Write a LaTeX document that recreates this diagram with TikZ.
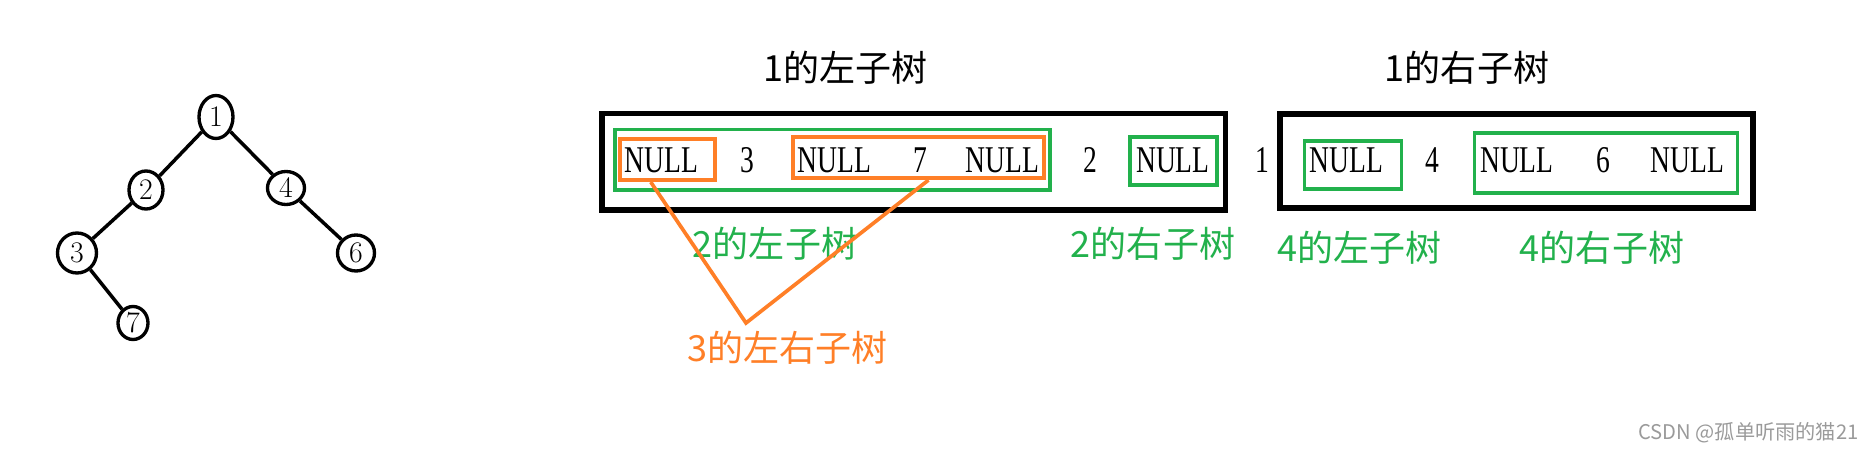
\documentclass[tikz,border=0pt]{standalone}
\usepackage{fontspec}
\usepackage{tikz}
\usetikzlibrary{shapes.geometric,calc}
\newfontfamily\cjk{Noto Sans CJK SC}
\newfontfamily\seqfont[FakeStretch=0.73]{Liberation Serif}
\definecolor{pgreen}{HTML}{22B14C}
\definecolor{porange}{HTML}{FF7F27}
\definecolor{wm}{HTML}{9A9A9A}
\tikzset{
  tnode/.style={draw,ellipse,line width=1.9pt,inner sep=0pt,minimum width=0.68cm,minimum height=0.76cm,font=\fontsize{17}{17}\selectfont},
  branch/.style={line width=2pt},
  seq/.style={anchor=base,inner sep=0pt,font=\seqfont\fontsize{21.5}{24}\selectfont},
  blk/.style={draw,line width=3pt,inner sep=0pt},
  gbox/.style={draw=pgreen,line width=2.2pt,inner sep=0pt},
  obox/.style={draw=porange,line width=2.3pt,inner sep=0pt},
  oline/.style={draw=porange,line width=2.1pt},
  ttl/.style={font=\cjk\fontsize{20.5}{24}\selectfont,inner sep=0pt},
  gl/.style={ttl,text=pgreen},
  ol/.style={ttl,text=porange}}
\begin{document}
\begin{tikzpicture}[x=0.02cm,y=-0.02cm]
\useasboundingbox (0,0) rectangle (1869,452);
% the tree
\node[tnode,minimum height=0.86cm] (n1) at (216,117) {1};
\node[tnode] (n2) at (146,190) {2};
\node[tnode,minimum width=0.74cm,minimum height=0.66cm] (n4) at (286,188) {4};
\node[tnode,minimum width=0.78cm,minimum height=0.8cm] (n3) at (77,253) {3};
\node[tnode,minimum width=0.74cm,minimum height=0.72cm] (n6) at (356,253) {6};
\node[tnode,minimum width=0.6cm,minimum height=0.66cm] (n7) at (133,323) {7};
\draw[branch] (n1) -- (n2); \draw[branch] (n1) -- (n4);
\draw[branch] (n2) -- (n3); \draw[branch] (n3) -- (n7);
\draw[branch] (n4) -- (n6);
% titles
\node[ttl] (tleft) at (845.7,68) {1的左子树};
\node[ttl] (tright) at (1467,68) {1的右子树};
% frames
\node[blk,minimum width=12.47cm,minimum height=1.93cm] (fL) at (913.7,161.7) {};
\node[blk,minimum width=9.46cm,minimum height=1.88cm] (fR) at (1516.5,161) {};
\node[gbox,minimum width=8.69cm,minimum height=1.21cm] (gA) at (832.5,159.7) {};
\node[gbox,minimum width=1.75cm,minimum height=0.97cm] (gB) at (1173.4,161) {};
\node[gbox,minimum width=1.94cm,minimum height=0.97cm] (gC) at (1353,165) {};
\node[gbox,minimum width=5.26cm,minimum height=1.19cm] (gD) at (1606,163) {};
\node[obox,minimum width=1.89cm,minimum height=0.83cm] (oA) at (667.5,159.3) {};
\node[obox,minimum width=5.02cm,minimum height=0.83cm] (oB) at (918.3,157.3) {};
% sequence
\node[seq] (s1) at (661.5,173) {NULL};
\node[seq] (s2) at (747.8,173) {3};
\node[seq] (s3) at (834.1,173) {NULL};
\node[seq] (s4) at (920.4,173) {7};
\node[seq] (s5) at (1002.5,173) {NULL};
\node[seq] (s6) at (1090.8,173) {2};
\node[seq] (s7) at (1172.9,173) {NULL};
\node[seq] (s8) at (1262,173) {1};
\node[seq] (s9) at (1346.4,173) {NULL};
\node[seq] (s10) at (1432.5,173) {4};
\node[seq] (s11) at (1516.9,173) {NULL};
\node[seq] (s12) at (1603,173) {6};
\node[seq] (s13) at (1687.3,173) {NULL};
% labels
\node[gl] (l2L) at (775,244) {2的左子树};
\node[gl] (l2R) at (1153,244) {2的右子树};
\node[gl] (l4L) at (1359.5,247.5) {4的左子树};
\node[gl] (l4R) at (1602,247.5) {4的右子树};
\node[ol] (l3) at (787.5,347.5) {3的左右子树};
\coordinate (apex) at (746,323);
\draw[oline] ($(oA.south west)!0.33!(oA.south east)$) -- (apex) -- ($(oB.south west)!0.54!(oB.south east)$);
\node[anchor=west,inner sep=0pt,text=wm,font=\cjk\fontsize{11.5}{12}\selectfont] (mark) at (1638,433) {CSDN @孤单听雨的猫21};
\end{tikzpicture}
\end{document}
